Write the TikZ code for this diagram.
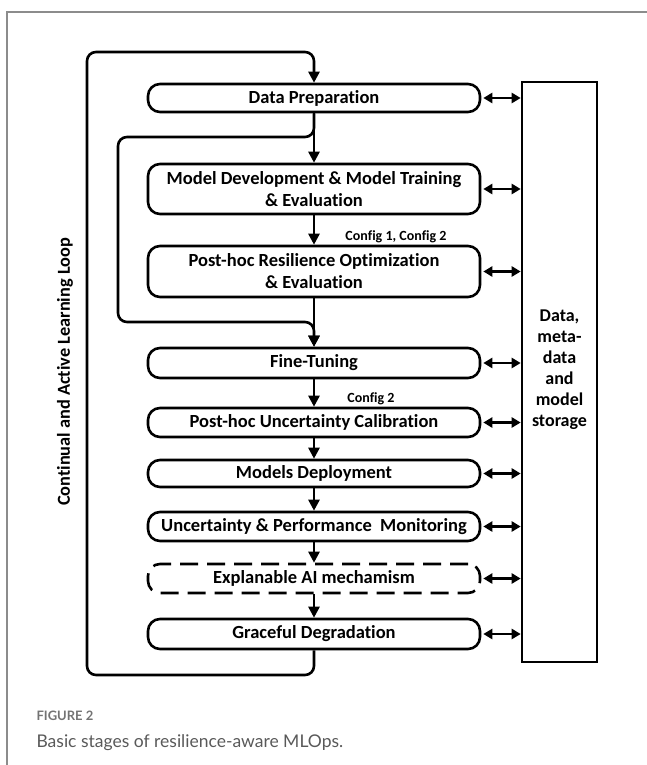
\documentclass[tikz,border=0pt]{standalone}
\usepackage{fontspec}
\setmainfont{Carlito}[Ligatures=NoCommon]
\newfontfamily\capfont{Lato}
\usetikzlibrary{arrows.meta}
\begin{document}
\begin{tikzpicture}[x=1pt,y=-1pt,
 stage/.style={draw, line width=2.6pt, rounded corners=12pt, minimum width=332pt, inner sep=0pt, align=center, font=\bfseries\fontsize{18.5}{22}\selectfont},
 flow/.style={line width=2.6pt, -{Triangle[length=11pt,width=11pt]}},
 dbl/.style={line width=2.6pt, {Triangle[length=9pt,width=10pt]}-{Triangle[length=9pt,width=10pt]}},
 backloop/.style={line width=2.6pt, rounded corners=9pt, -{Triangle[length=11pt,width=11pt]}},
 cfg/.style={font=\bfseries\fontsize{14}{16}\selectfont, inner sep=0pt},
]
\useasboundingbox (0,0) rectangle (647,765);
\draw[line width=1.5pt, color=gray!90] (647,12) -- (7,12) -- (7,765);

\node[stage, minimum height=28pt] (dp) at (314,98) {Data Preparation};
\node[stage, minimum height=50pt] (md) at (314,189) {Model Development \& Model Training\\\& Evaluation};
\node[stage, minimum height=51pt] (pr) at (314,271.5) {Post-hoc Resilience Optimization\\\& Evaluation};
\node[stage, minimum height=30pt] (ft) at (314,363) {Fine-Tuning};
\node[stage, minimum height=29pt] (uc) at (314,422.5) {Post-hoc Uncertainty Calibration};
\node[stage, minimum height=27pt] (dep) at (314,473.5) {Models Deployment};
\node[stage, minimum height=29pt] (mon) at (314,526.5) {Uncertainty \& Performance\ \ Monitoring};
\node[stage, minimum height=29pt, dash pattern=on 18pt off 9pt] (xai) at (314,578.5) {Explanable AI mechamism};
\node[stage, minimum height=30pt] (gd) at (314,634) {Graceful Degradation};

\node[draw, line width=2.6pt, minimum width=75pt, minimum height=580pt, inner sep=0pt] (st) at (559.5,372) {};
\node[align=center, font=\bfseries\fontsize{18}{21}\selectfont, inner sep=0pt] (stl) at (559.5,370) {Data,\\meta-\\data\\and\\model\\storage};

\node[cfg] (c1) at (396,237) {Config 1, Config 2};
\node[cfg] (c2) at (371,399) {Config 2};

\node[rotate=90, font=\bfseries\fontsize{18.3}{20}\selectfont] (side) at (65,372) {Continual and Active Learning Loop};

\draw[flow] (dp) -- (md);
\draw[flow] (md) -- (pr);
\draw[flow] (pr) -- (ft);
\draw[flow] (ft) -- (uc);
\draw[flow] (uc) -- (dep);
\draw[flow] (dep) -- (mon);
\draw[flow] (mon) -- (xai);
\draw[flow] (xai) -- (gd);

\coordinate (ia) at (118,137);
\coordinate (ib) at (118,322);
\draw[backloop] (dp.south) |- (ia) -- (ib) -| (ft.north);

\coordinate (lb) at (87,675);
\coordinate (lt) at (87,52);
\draw[backloop] (gd.south) |- (lb) -- (lt) -| (dp.north);

\foreach \n in {dp,md,pr,ft,uc,dep,mon,xai,gd}
  \draw[dbl] (\n.east) ++(2pt,0) -- (\n.east -| st.west);

\node[anchor=base west, font=\capfont\bfseries\fontsize{13}{15}\selectfont, text=black!55] (fig) at (33,720) {FIGURE 2};
\node[anchor=base west, font=\capfont\fontsize{17.5}{20}\selectfont, text=black!65] (cap) at (33,747) {Basic stages of resilience-aware MLOps.};
\end{tikzpicture}
\end{document}
